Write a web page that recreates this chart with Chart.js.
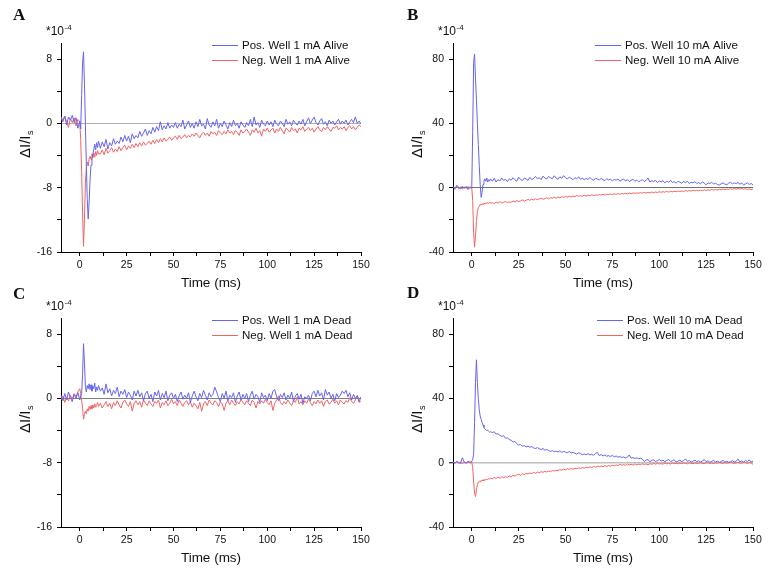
<!DOCTYPE html>
<html>
<head>
<meta charset="utf-8">
<script src="https://cdn.jsdelivr.net/npm/chart.js@4.4.1/dist/chart.umd.min.js"></script>
<style>
  html, body { margin: 0; padding: 0; background: #fff; overflow: hidden; }
  body { width: 770px; height: 574px; position: relative; }
  .panel { position: absolute; width: 385px; height: 300px; }
</style>
</head>
<body>
<div class="panel" style="left:0;top:0"><canvas id="chartA" width="385" height="300"></canvas></div>
<div class="panel" style="left:385px;top:0"><canvas id="chartB" width="385" height="300"></canvas></div>
<div class="panel" style="left:0;top:280px"><canvas id="chartC" width="385" height="300"></canvas></div>
<div class="panel" style="left:385px;top:280px"><canvas id="chartD" width="385" height="300"></canvas></div>
<script>
// time axis (ms), finer steps around the pulse
const time = [
  -10, -9, -8, -7, -6, -5, -4, -3, -2, -1,
  0, 0.5, 1, 1.5, 2, 2.5, 3, 3.5, 4, 4.5, 5, 5.5, 6, 6.5, 7, 7.5, 8, 8.5, 9, 9.5, 10,
  11, 12, 13, 14, 15, 16, 17, 18, 19, 20,
  21, 22, 23, 24, 25, 26, 27, 28, 29, 30,
  31, 32, 33, 34, 35, 36, 37, 38, 39, 40,
  41, 42, 43, 44, 45, 46, 47, 48, 49, 50,
  51, 52, 53, 54, 55, 56, 57, 58, 59, 60,
  61, 62, 63, 64, 65, 66, 67, 68, 69, 70,
  71, 72, 73, 74, 75, 76, 77, 78, 79, 80,
  81, 82, 83, 84, 85, 86, 87, 88, 89, 90,
  91, 92, 93, 94, 95, 96, 97, 98, 99, 100,
  101, 102, 103, 104, 105, 106, 107, 108, 109, 110,
  111, 112, 113, 114, 115, 116, 117, 118, 119, 120,
  121, 122, 123, 124, 125, 126, 127, 128, 129, 130,
  131, 132, 133, 134, 135, 136, 137, 138, 139, 140,
  141, 142, 143, 144, 145, 146, 147, 148, 149, 150
];

// values in units of 1e-4
const posAlive1 = [
  0.6, 0.2, 0.9, -0.2, 0.8, 0.4, 1.0, 0.1, 0.7, -0.6,
  0.3, -0.7, 3.5, 7.5, 8.9, 5.0, 0.0, -5.0, -9.5, -11.9, -9.8, -7.0, -5.2, -4.4, -3.8, -3.2, -2.6, -3.3, -2.4, -3.0, -2.2,
  -3.1, -2.3, -2.9, -2.0, -3.2, -2.4, -2.8, -1.9, -2.6, -2.2,
  -2.5, -1.7, -2.3, -1.5, -2.2, -1.6, -2.4, -1.3, -1.9, -1.5,
  -1.8, -1.0, -1.6, -1.2, -0.7, -1.5, -0.9, -1.3, -0.5, -1.1,
  -0.4, -0.9, 0.2, -0.8, -0.3, -0.7, 0.1, -0.6, -0.2, -0.5,
  0.1, -0.6, -0.1, -0.4, 0.4, -0.7, -0.2, 0.3, -0.5, 0.0,
  -0.6, 0.2, -0.4, 0.5, -0.3, -0.1, -0.7, 0.6, -0.2, -0.5,
  0.2, -0.3, 0.5, -0.6, 0.0, -0.4, 0.3, -0.2, -0.7, 0.1,
  -0.4, 0.4, -0.3, 0.0, -0.6, 0.2, -0.2, -0.5, 0.1, -0.3,
  0.5, -0.4, 0.8, -0.2, 0.1, -0.5, 0.4, -0.1, -0.3, 0.3,
  -0.2, 0.2, -0.4, 0.4, -0.1, -0.3, 0.3, 0.0, -0.4, 0.5,
  -0.1, 0.2, -0.3, 0.4, 0.0, -0.2, 0.3, -0.1, 0.5, -0.3,
  0.2, 0.7, 0.0, 0.4, 0.8, 0.1, -0.2, 0.3, 0.6, -0.1,
  0.2, -0.3, 0.4, 0.0, 0.3, -0.2, 0.2, 0.5, -0.1, 0.3,
  0.0, 0.4, -0.2, 0.2, 0.5, 0.1, 0.8, 0.0, 0.3, -0.1
];
const negAlive1 = [
  0.8, 0.4, 0.9, 0.2, -0.5, 0.6, 0.1, 0.7, -0.3, 0.5,
  0.2, -2.0, -6.0, -11.0, -15.3, -12.0, -7.5, -5.6, -4.8, -5.3, -4.4, -4.1, -4.5, -3.8, -4.3, -3.7, -4.2, -3.5, -4.0, -3.4, -3.8,
  -3.8, -3.3, -3.9, -3.1, -3.7, -3.4, -3.0, -3.6, -3.2, -3.5,
  -2.9, -3.4, -3.0, -2.7, -3.3, -2.8, -3.1, -2.6, -3.0, -2.5,
  -2.9, -2.4, -2.8, -2.3, -2.7, -2.5, -2.2, -2.6, -2.1, -2.5,
  -2.0, -2.4, -1.9, -2.3, -1.8, -2.2, -2.0, -1.7, -2.1, -1.8,
  -1.6, -2.0, -1.5, -1.9, -1.7, -1.4, -1.8, -1.5, -1.7, -1.3,
  -1.6, -1.2, -1.5, -1.8, -1.3, -1.1, -1.5, -1.2, -1.6, -1.0,
  -1.3, -1.1, -1.5, -0.9, -1.2, -1.4, -1.0, -1.3, -0.8, -1.2,
  -1.0, -1.4, -0.9, -1.1, -1.5, -0.8, -1.2, -1.0, -0.7, -1.1,
  -1.5, -0.8, -1.1, -0.6, -1.2, -0.9, -1.6, -0.7, -1.0, -0.6,
  -1.1, -0.8, -0.6, -1.2, -0.7, -1.0, -0.5, -0.9, -1.3, -0.6,
  -0.8, -1.1, -0.5, -0.9, -0.7, -1.2, -0.6, -0.8, -0.4, -1.0,
  -0.7, -0.5, -0.9, -0.6, -1.1, -0.7, -0.4, -0.8, -1.0, -0.5,
  -0.8, -0.4, -0.7, -1.0, -0.5, -0.6, -0.3, -0.8, -0.5, -0.7,
  -0.4, -0.9, -0.5, -0.3, -0.7, -0.4, -0.8, -0.5, -0.2, -0.4
];
const posAlive10 = [
  0.5, -1.0, 1.5, 0.2, -0.8, 1.0, -0.5, 0.8, -1.2, 0.4,
  0.0, 35, 78, 83, 68, 55, 40, 27, 14, 2, -6, -3, 2, 4, 5.5, 4, 6, 3.5, 5, 4, 5.5,
  4.0, 5.8, 3.5, 5.0, 4.2, 6.0, 4.5, 5.2, 3.8, 5.5,
  4.6, 6.2, 5.0, 4.0, 6.5, 5.2, 4.4, 6.0, 5.5, 4.6,
  6.4, 5.0, 5.8, 7.0, 5.5, 6.2, 5.0, 7.2, 6.0, 5.4,
  7.0, 6.1, 5.6, 7.4, 6.0, 5.2, 6.8, 5.8, 7.5, 6.2,
  5.4, 6.6, 5.8, 5.0, 6.2, 5.5, 6.8, 5.2, 6.0, 4.8,
  5.8, 5.0, 6.4, 5.2, 4.6, 6.0, 5.4, 4.8, 5.8, 5.0,
  4.4, 5.6, 4.8, 5.4, 4.2, 5.2, 4.6, 5.5, 4.0, 4.8,
  5.4, 4.2, 5.0, 3.8, 4.6, 5.2, 4.0, 4.8, 3.6, 4.4,
  5.0, 3.8, 4.6, 6.0, 3.5, 4.4, 3.8, 4.6, 3.2, 4.2,
  3.6, 4.4, 3.0, 4.0, 3.4, 4.6, 3.2, 3.8, 2.8, 4.0,
  3.4, 2.8, 3.8, 3.2, 4.0, 2.6, 3.4, 3.0, 3.8, 2.6,
  3.2, 2.4, 3.6, 2.8, 1.8, 3.0, 2.6, 3.4, 2.2, 2.8,
  2.0, 1.6, 2.4, 3.0, 2.2, 1.8, 2.8, 3.4, 2.4, 3.0,
  2.6, 3.2, 2.2, 2.8, 1.8, 2.4, 3.0, 2.0, 2.6, 1.8
];
const negAlive10 = [
  0.6, -0.4, 0.8, -0.6, 0.3, -0.8, 0.5, -0.3, 0.7, -0.2,
  0.0, -8, -28, -37, -30, -21, -15, -12.5, -11.5, -10.5, -10.8, -10.0, -10.4, -9.6, -10.2, -9.4, -10.0, -9.2, -9.8, -9.0, -9.6,
  -9.4, -9.9, -9.0, -9.6, -8.7, -9.5, -9.1, -8.6, -9.3, -8.8,
  -9.1, -8.3, -8.8, -8.0, -8.6, -8.2, -7.6, -8.4, -7.9, -7.3,
  -7.8, -7.2, -7.7, -6.9, -7.5, -7.0, -6.5, -7.2, -6.8, -6.3,
  -6.9, -6.2, -6.6, -5.9, -6.5, -5.7, -6.3, -5.6, -6.0, -5.4,
  -5.9, -5.3, -5.8, -5.1, -5.6, -4.9, -5.4, -5.0, -5.3, -4.7,
  -5.2, -4.6, -5.0, -4.4, -4.9, -4.5, -4.8, -4.2, -4.7, -4.1,
  -4.6, -4.0, -4.4, -3.9, -4.3, -3.8, -4.2, -3.6, -4.1, -3.6,
  -3.9, -3.5, -3.9, -3.3, -3.8, -3.2, -3.6, -3.2, -3.5, -3.0,
  -3.4, -3.0, -3.3, -2.8, -3.3, -2.7, -3.1, -2.7, -3.0, -2.5,
  -2.9, -2.5, -2.8, -2.3, -2.8, -2.2, -2.6, -2.2, -2.5, -2.0,
  -2.4, -2.0, -2.3, -1.8, -2.2, -1.8, -2.1, -1.6, -2.0, -1.6,
  -1.9, -1.5, -1.8, -1.3, -1.7, -1.3, -1.6, -1.1, -1.5, -1.1,
  -1.4, -1.0, -1.3, -0.8, -1.2, -0.8, -1.1, -0.6, -1.0, -0.5,
  -0.9, -0.5, -0.8, -0.5, -1.0, -0.6, -1.1, -0.7, -1.2, -0.8
];
const posDead1 = [
  0.4, -0.3, 0.6, -0.2, 0.8, 0.1, -0.4, 0.5, 0.0, 0.7,
  -0.2, 0.3, 0.6, 3.0, 6.8, 4.5, 1.5, 0.8, 1.6, 1.2, 1.8, 1.1, 1.7, 0.9, 1.5, 1.2, 1.9, 0.8, 1.4, 1.0, 1.6,
  0.9, 1.3, 0.5, 1.8, 0.7, 1.2, 0.3, 1.0, 0.6, 1.4,
  0.2, 0.9, 0.5, 1.1, 0.1, 0.8, 0.4, -0.2, 0.9, 0.3,
  1.0, 0.2, 0.7, -0.3, 0.6, 0.9, 0.0, 0.5, -0.4, 0.8,
  0.3, 1.0, -0.2, 0.6, 0.1, 0.9, -0.3, 0.4, 0.7, 0.0,
  0.5, -0.4, 0.3, 0.8, -0.1, 0.4, 0.0, 0.7, -0.5, 0.3,
  0.9, 0.2, -0.3, 0.6, 0.1, 1.0, 0.4, -0.2, 0.7, 0.2,
  0.5, 1.4, 0.8, 0.1, -0.4, 0.6, 0.0, 0.9, -0.3, 0.4,
  0.1, 0.7, -0.5, 0.3, 0.8, -0.2, 0.5, 0.0, 0.6, -0.4,
  0.4, 0.9, -0.1, 0.5, 0.2, -0.5, 0.7, 0.1, 0.4, -0.3,
  0.6, 0.0, 0.9, 1.1, 0.2, -0.3, 0.5, 0.1, 0.7, -0.2,
  0.4, 0.0, 0.8, -0.4, 0.3, 0.6, -0.1, 0.5, -0.6, 0.2,
  0.0, 0.4, -0.3, 0.6, 0.9, 0.2, 1.0, 0.3, 0.7, -0.2,
  1.1, 0.4, 0.8, 0.0, 0.5, -0.3, 0.6, 0.1, 0.4, 0.9,
  0.6, 1.0, 0.2, 0.7, -0.2, 0.5, 0.0, 0.3, -0.4, 0.2
];
const negDead1 = [
  -0.2, 0.3, -0.5, 0.1, -0.3, 0.4, -0.1, 0.6, 0.2, 0.8,
  1.2, 0.6, -0.3, -1.2, -2.6, -2.0, -1.6, -1.9, -1.3, -1.6, -1.0, -1.4, -0.9, -1.3, -0.8, -1.2, -0.7, -1.1, -0.9, -0.5, -1.0,
  -0.6, -1.2, -0.8, -0.4, -1.0, -0.6, -1.3, -0.5, -0.9, -0.3,
  -0.8, -1.2, -0.5, -0.2, -0.7, -1.0, -0.4, -1.6, -0.6, -0.3,
  -0.8, -0.4, -1.1, -0.2, -0.6, -0.9, -0.3, -0.7, -1.0, -0.4,
  -0.6, -0.2, -1.2, -0.5, -0.8, -0.3, -0.9, -0.6, -0.1, -0.7,
  -0.4, -0.9, -0.2, -0.6, -1.0, -0.5, -0.3, -0.8, -0.4, -1.1,
  -0.6, -0.9, -1.3, -0.5, -1.6, -0.7, -0.4, -0.9, -0.2, -0.6,
  -0.8, -0.3, -0.5, -1.0, -0.4, -0.7, -1.5, -0.6, -0.3, -0.8,
  -0.2, -0.6, -0.9, -0.4, -0.7, -0.1, -0.5, -0.8, -0.3, -0.6,
  -0.9, -0.2, -0.5, -1.2, -0.4, -0.7, -0.3, -0.6, -0.1, -0.5,
  -0.8, -0.3, -1.5, -0.6, -0.2, 0.3, -0.5, -0.8, -0.4, -0.7,
  -0.2, -0.6, -0.9, -0.3, -0.5, 0.2, -0.7, -0.4, -0.8, -0.3,
  -0.6, -0.1, -0.5, -0.9, -0.4, -0.7, -0.2, -0.6, -0.3, -1.0,
  -0.4, -0.2, -0.7, -0.5, -0.1, -0.6, -0.3, -0.8, -0.2, -0.5,
  -0.7, -0.3, -0.5, 0.1, -0.4, -0.6, -0.2, 0.4, -0.5, -0.3
];
const posDead10 = [
  0.5, -0.3, 0.8, 0.2, -0.5, 3.0, 0.4, -0.2, 0.9, 0.3,
  0.8, 2.0, 5.0, 25, 50, 64, 50, 40, 33, 29, 27, 25, 23.5, 22, 21, 20.5, 20, 20.2, 19.5, 19, 19.2,
  18.8, 19.2, 17.8, 18.0, 17.0, 16.4, 16.8, 15.2, 15.5, 14.4,
  14.0, 12.8, 13.2, 11.8, 11.0, 11.4, 10.2, 10.6, 9.8, 10.3,
  9.6, 10.0, 9.2, 8.8, 9.4, 8.6, 8.2, 8.8, 7.8, 8.2,
  7.6, 7.0, 7.5, 6.8, 7.2, 6.6, 7.4, 6.4, 7.0, 6.6,
  6.2, 7.0, 6.0, 6.4, 5.8, 5.4, 6.2, 5.6, 5.0, 5.4,
  5.0, 5.6, 4.8, 5.2, 4.6, 5.8, 6.4, 4.4, 5.0, 4.2,
  4.8, 4.0, 4.4, 3.8, 4.6, 3.6, 4.2, 3.4, 3.8, 3.2,
  3.6, 3.0, 3.4, 4.8, 2.8, 3.2, 2.6, 3.0, 2.4, 2.8,
  2.2, 0.8, 1.6, 2.0, 0.6, 1.4, 1.8, 0.8, 1.2, 2.0,
  1.0, 1.6, 0.6, 1.4, 2.0, 0.8, 1.2, 1.8, 0.4, 1.0,
  1.6, 0.6, 1.2, 2.4, 0.8, 1.4, 0.4, 1.0, 1.6, 0.6,
  1.2, 0.4, 1.0, 2.0, 0.6, 1.2, 0.2, 0.8, 1.4, 0.4,
  1.0, 0.2, 0.8, 1.4, 0.4, 0.9, 0.2, 0.7, 1.2, 0.4,
  0.8, 2.2, 0.5, 1.2, 0.3, 1.5, 0.6, 1.8, 0.4, 1.0
];
const negDead10 = [
  0.4, -0.3, 0.6, -0.2, 0.3, -0.5, 0.2, -0.4, 0.5, -0.1,
  0.2, -3, -12, -19, -21, -17, -13.5, -12, -11.5, -12, -11, -11.4, -10.6, -11.2, -10.4, -10.8, -10.2, -10.6, -9.8, -10.3, -9.6,
  -10.0, -9.2, -9.8, -9.0, -9.6, -8.8, -9.4, -8.6, -9.2, -8.2,
  -8.8, -7.8, -8.4, -7.6, -7.2, -7.8, -6.8, -7.4, -6.6, -7.0,
  -6.4, -6.8, -6.0, -6.6, -5.8, -6.2, -5.6, -6.0, -5.4, -5.8,
  -5.2, -5.6, -4.8, -5.2, -4.6, -4.9, -4.3, -4.7, -4.0, -4.4,
  -3.8, -4.2, -3.6, -4.0, -3.4, -3.8, -3.2, -3.6, -3.0, -3.4,
  -2.8, -3.2, -2.6, -3.0, -2.4, -2.8, -2.2, -2.6, -2.0, -2.5,
  -1.9, -2.3, -1.8, -2.2, -1.6, -2.0, -1.4, -1.8, -1.0, -1.6,
  -1.2, -1.6, -0.9, -1.4, -1.0, -1.5, -0.8, -1.3, -0.9, -1.2,
  -0.7, -1.1, -0.8, -1.3, -0.6, -1.0, -0.5, -0.9, -0.4, -0.8,
  -0.6, -0.9, -0.3, -0.7, -0.5, -0.8, -0.2, -0.6, -0.4, -0.7,
  -0.3, -0.6, -0.2, -0.5, -0.7, -0.1, -0.4, -0.6, -0.2, -0.5,
  -0.3, -0.1, -0.4, -0.6, -0.2, 0.0, -0.4, -0.2, -0.5, -0.1,
  -0.3, 0.1, -0.2, -0.4, 0.0, -0.3, -0.1, 0.2, -0.2, -0.4,
  -0.1, 0.1, -0.3, -0.2, 0.2, -0.1, -0.4, 0.0, -0.2, -1.0
];

const namesAlive1 = ['Pos. Well 1 mA Alive', 'Neg. Well 1 mA Alive'];
const namesAlive10 = ['Pos. Well 10 mA Alive', 'Neg. Well 10 mA Alive'];
const namesDead1 = ['Pos. Well 1 mA Dead', 'Neg. Well 1 mA Dead'];
const namesDead10 = ['Pos. Well 10 mA Dead', 'Neg. Well 10 mA Dead'];
const xTitle = 'Time (ms)';

const CANVAS_W = 385;
const CANVAS_H = 300;
const SANS = '"Liberation Sans", Arial, sans-serif';
const SERIF = '"Liberation Serif", "Times New Roman", serif';
const BLUE = '#6464f0';
const RED = '#f06464';

const panels = [
  { id: 'chartA', letter: 'A', letterX: 13, letterY: 16, pos: posAlive1, neg: negAlive1, names: namesAlive1,
    yMin: -16, yMax: 10, yStep: 4, yMajor: 8, area: { left: 61, right: 361, top: 43, bottom: 252 },
    titlePad: 9, legendX: 212, zeroColor: '#b0b0b0', zeroWidth: 1 },
  { id: 'chartB', letter: 'B', letterX: 22, letterY: 16, pos: posAlive10, neg: negAlive10, names: namesAlive10,
    yMin: -40, yMax: 90, yStep: 20, yMajor: 40, area: { left: 68, right: 368, top: 43, bottom: 252 },
    titlePad: 9, legendX: 210, zeroColor: '#707070', zeroWidth: 1 },
  { id: 'chartC', letter: 'C', letterX: 13, letterY: 15, pos: posDead1, neg: negDead1, names: namesDead1,
    yMin: -16, yMax: 10, yStep: 4, yMajor: 8, area: { left: 61, right: 361, top: 38, bottom: 247 },
    titlePad: 14, legendX: 212, zeroColor: '#808080', zeroWidth: 1 },
  { id: 'chartD', letter: 'D', letterX: 22, letterY: 14, pos: posDead10, neg: negDead10, names: namesDead10,
    yMin: -40, yMax: 90, yStep: 20, yMajor: 40, area: { left: 68, right: 368, top: 38, bottom: 247 },
    titlePad: 14, legendX: 212, zeroColor: '#c0c0c0', zeroWidth: 1.5 }
];

// letter, exponent, y label and legend
function decorations(p) {
  return {
    id: 'decorations',
    afterDraw(chart) {
      const { ctx, chartArea: a } = chart;
      ctx.save();
      ctx.fillStyle = '#111';
      ctx.textAlign = 'left';
      ctx.textBaseline = 'middle';

      ctx.font = 'bold 17px ' + SERIF;
      ctx.fillText(p.letter, p.letterX, p.letterY);

      ctx.font = '12px ' + SANS;
      ctx.fillText('*10', a.left - 15, a.top - 11);
      const w = ctx.measureText('*10').width;
      ctx.font = '8px ' + SANS;
      ctx.fillText('-4', a.left - 15 + w + 0.5, a.top - 15);

      // ΔI/Is with subscript, rotated
      ctx.save();
      ctx.translate(a.left - 36, (a.top + a.bottom) / 2 - 3);
      ctx.rotate(-Math.PI / 2);
      ctx.textBaseline = 'alphabetic';
      ctx.font = '15px ' + SANS;
      const main = 'ΔI/I';
      const mw = ctx.measureText(main).width;
      ctx.font = '9px ' + SANS;
      const sw = ctx.measureText('s').width;
      const x0 = -(mw + sw) / 2;
      ctx.font = '15px ' + SANS;
      ctx.fillText(main, x0, 5);
      ctx.font = '9px ' + SANS;
      ctx.fillText('s', x0 + mw + 0.5, 8);
      ctx.restore();

      // legend
      ctx.font = '11.5px ' + SANS;
      [[p.names[0], BLUE, a.top + 2], [p.names[1], RED, a.top + 17]].forEach(([label, color, y]) => {
        ctx.fillStyle = color;
        ctx.fillRect(p.legendX, y, 26, 1);
        ctx.fillStyle = '#111';
        ctx.fillText(label, p.legendX + 30, y + 1);
      });
      ctx.restore();
    }
  };
}

panels.forEach(p => {
  const toPoints = arr => time.map((t, i) => ({ x: t, y: arr[i] }));
  new Chart(document.getElementById(p.id), {
    type: 'line',
    data: {
      datasets: [
        { label: p.names[1], data: toPoints(p.neg), borderColor: RED, borderWidth: 1, pointRadius: 0, tension: 0, order: 2 },
        { label: p.names[0], data: toPoints(p.pos), borderColor: BLUE, borderWidth: 1, pointRadius: 0, tension: 0, order: 1 }
      ]
    },
    options: {
      responsive: false,
      animation: false,
      events: [],
      devicePixelRatio: 1,
      layout: { padding: { left: 0, right: CANVAS_W - p.area.right, top: p.area.top, bottom: 0 } },
      plugins: { legend: { display: false }, tooltip: { enabled: false } },
      scales: {
        x: {
          type: 'linear',
          min: -10,
          max: 150,
          afterFit: s => { s.height = CANVAS_H - p.area.bottom; },
          border: { color: '#000', width: 1 },
          grid: { drawOnChartArea: false, tickLength: 4, tickColor: '#000', tickWidth: 1 },
          ticks: {
            stepSize: 12.5, includeBounds: false, autoSkip: false, maxRotation: 0,
            padding: 3, color: '#111', font: { family: SANS, size: 10.5 },
            callback: v => (v % 25 === 0 ? v : '')
          },
          title: {
            display: true, text: xTitle, color: '#111',
            font: { family: SANS, size: 13.5 },
            padding: { top: 0, bottom: p.titlePad }
          }
        },
        y: {
          type: 'linear',
          min: p.yMin,
          max: p.yMax,
          afterFit: s => { s.width = p.area.left; },
          border: { color: '#000', width: 1 },
          grid: {
            drawOnChartArea: true,
            color: c => (c.tick && c.tick.value === 0 ? p.zeroColor : 'rgba(0,0,0,0)'),
            lineWidth: c => (c.tick && c.tick.value === 0 ? p.zeroWidth : 1),
            tickLength: 4, tickColor: '#000', tickWidth: 1
          },
          ticks: {
            stepSize: p.yStep, includeBounds: false, autoSkip: false,
            padding: 5, color: '#111', font: { family: SANS, size: 10.5 },
            callback: v => (v % p.yMajor === 0 ? v : '')
          }
        }
      }
    },
    plugins: [decorations(p)]
  });
});
</script>
</body>
</html>
